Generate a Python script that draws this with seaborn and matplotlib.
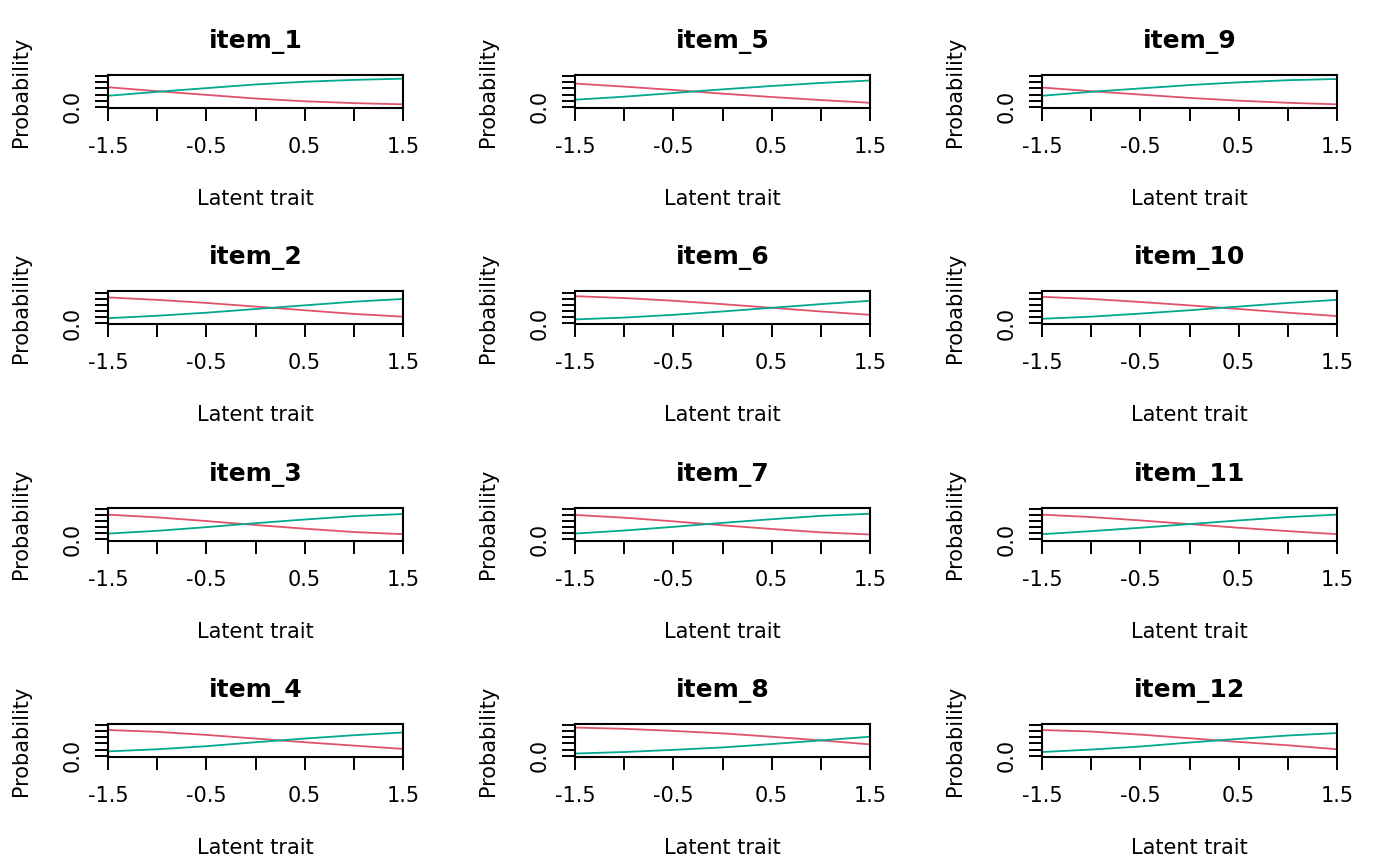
import numpy as np
import pandas as pd
import matplotlib
matplotlib.use("Agg")
import matplotlib.pyplot as plt
import seaborn as sns

# values (probability of each response category)
theta = [-1.5, -1.0, -0.5, 0.0, 0.5, 1.0, 1.5]
item_names = ["item_1", "item_2", "item_3", "item_4",
              "item_5", "item_6", "item_7", "item_8",
              "item_9", "item_10", "item_11", "item_12"]
prob_cat0 = [
    [0.64, 0.51, 0.39, 0.27, 0.18, 0.12, 0.08],
    [0.84, 0.76, 0.66, 0.54, 0.42, 0.30, 0.21],
    [0.81, 0.72, 0.60, 0.47, 0.35, 0.24, 0.17],
    [0.84, 0.78, 0.68, 0.56, 0.44, 0.33, 0.22],
    [0.76, 0.66, 0.55, 0.43, 0.32, 0.22, 0.13],
    [0.88, 0.82, 0.73, 0.62, 0.50, 0.38, 0.27],
    [0.80, 0.71, 0.59, 0.46, 0.34, 0.23, 0.16],
    [0.92, 0.88, 0.81, 0.73, 0.62, 0.50, 0.37],
    [0.63, 0.51, 0.40, 0.29, 0.20, 0.13, 0.08],
    [0.86, 0.79, 0.69, 0.58, 0.46, 0.34, 0.23],
    [0.81, 0.73, 0.62, 0.50, 0.38, 0.27, 0.17],
    [0.84, 0.79, 0.69, 0.57, 0.45, 0.34, 0.21],
]
prob_cat1 = [
    [0.36, 0.49, 0.61, 0.73, 0.82, 0.88, 0.92],
    [0.16, 0.24, 0.34, 0.46, 0.58, 0.70, 0.79],
    [0.19, 0.28, 0.40, 0.53, 0.65, 0.76, 0.83],
    [0.14, 0.21, 0.31, 0.44, 0.56, 0.67, 0.76],
    [0.23, 0.33, 0.45, 0.57, 0.68, 0.78, 0.86],
    [0.12, 0.18, 0.27, 0.38, 0.50, 0.62, 0.73],
    [0.19, 0.29, 0.41, 0.54, 0.66, 0.77, 0.84],
    [0.07, 0.12, 0.19, 0.27, 0.38, 0.50, 0.62],
    [0.36, 0.49, 0.60, 0.71, 0.80, 0.87, 0.91],
    [0.14, 0.21, 0.31, 0.42, 0.54, 0.66, 0.76],
    [0.17, 0.27, 0.38, 0.50, 0.62, 0.73, 0.81],
    [0.12, 0.20, 0.30, 0.43, 0.55, 0.66, 0.74],
]
x_ticks = [-1.5, -1.0, -0.5, 0.0, 0.5, 1.0, 1.5]
x_ticklabels = ["-1.5", "", "-0.5", "", "0.5", "", "1.5"]
y_ticks = [0.0, 0.2, 0.4, 0.6, 0.8, 1.0]
y_ticklabels = ["0.0", "", "", "", "", ""]
colors = ["#DF536B", "#00A98F"]

sns.set_style("ticks")
plt.rcParams["font.family"] = ["DejaVu Sans"]
plt.rcParams["text.color"] = "black"
plt.rcParams["axes.labelcolor"] = "black"
plt.rcParams["xtick.color"] = "black"
plt.rcParams["ytick.color"] = "black"

W, H = 1400, 865
fig = plt.figure(figsize=(W / 100, H / 100), dpi=100)
PT = 0.72  # points per pixel at dpi 100


def panel_rect(row, col):
    left = 108 + col * 467
    top = 75 + row * 216.3
    return [left / W, 1 - (top + 33) / H, 295 / W, 33 / H]


for i, name in enumerate(item_names):
    col, row = divmod(i, 4)
    ax = fig.add_axes(panel_rect(row, col))
    df = pd.DataFrame({
        "theta": theta * 2,
        "prob": prob_cat0[i] + prob_cat1[i],
        "cat": ["0"] * len(theta) + ["1"] * len(theta),
    })
    sns.lineplot(data=df, x="theta", y="prob", hue="cat", palette=colors,
                 legend=False, lw=1.3, ax=ax)
    ax.set_xlim(-1.5, 1.5)
    ax.set_ylim(-0.04, 1.04)
    ax.set_xticks(x_ticks, x_ticklabels, fontsize=15)
    ax.set_yticks(y_ticks, y_ticklabels, fontsize=15)
    plt.setp(ax.get_yticklabels(), rotation=90, va="center")
    ax.tick_params(axis="x", length=9.7, width=1.4, pad=11.2, colors="black")
    ax.tick_params(axis="y", length=9.7, width=1.4, pad=8.3, colors="black")
    for sp in ax.spines.values():
        sp.set_visible(True)
        sp.set_linewidth(1.5)
        sp.set_color("black")
    ax.set_xlabel("")
    ax.set_ylabel("")
    ax.annotate(name, (0.5, 1), xycoords="axes fraction",
                xytext=(0, 27 * PT), textcoords="offset points",
                ha="center", va="baseline", fontsize=18, fontweight="bold",
                color="black")
    ax.annotate("Latent trait", (0.5, 0), xycoords="axes fraction",
                xytext=(0, -97 * PT), textcoords="offset points",
                ha="center", va="baseline", fontsize=15, color="black")
    ax.annotate("Probability", (0, 0.5), xycoords="axes fraction",
                xytext=(-87 * PT, 0), textcoords="offset points",
                ha="center", va="center", rotation=90, fontsize=15,
                color="black")

fig.savefig("out.png", dpi=100, facecolor="white")
